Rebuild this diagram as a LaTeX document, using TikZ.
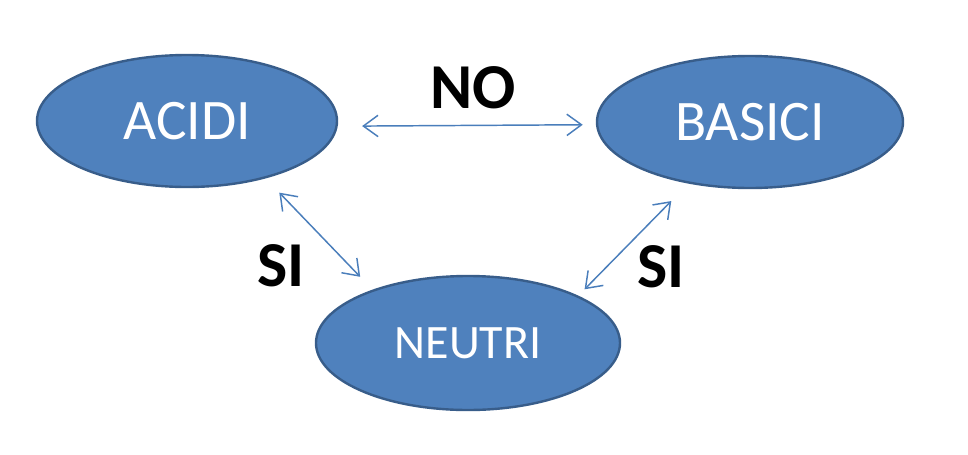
\documentclass[tikz,border=0pt]{standalone}
\usepackage{fontspec}
\setmainfont{Carlito}
\usetikzlibrary{shapes.geometric,arrows.meta}
\definecolor{ellfill}{HTML}{4F81BD}
\definecolor{elldraw}{HTML}{385D8A}
\definecolor{arrcol}{HTML}{4A7EBB}
\begin{document}
\begin{tikzpicture}[x=0.75pt,y=-0.75pt,
  blob/.style={ellipse,fill=ellfill,draw=elldraw,line width=1.8pt,inner sep=0pt,outer sep=0pt,text=white},
  arr/.style={draw=arrcol,line width=1.1pt,{Straight Barb[length=11pt,width=16pt]}-{Straight Barb[length=11pt,width=16pt]}},
  lab/.style={font=\fontsize{48}{48}\selectfont\bfseries,text=black,inner sep=0pt}]
\useasboundingbox[fill=white] (0,0) rectangle (968,454);
\node[blob,minimum width=225pt,minimum height=99pt,font=\fontsize{43}{43}\selectfont] (acidi) at (187,121) {ACIDI};
\node[blob,minimum width=229.5pt,minimum height=99pt,font=\fontsize{43}{43}\selectfont] (basici) at (750,122) {BASICI};
\node[blob,minimum width=228pt,minimum height=100.5pt,font=\fontsize{36}{36}\selectfont] (neutri) at (468,343) {NEUTRI};
\draw[arr,shorten <=19.2pt,shorten >=10.8pt] (acidi.-2.3) -- (basici.181.9);
\draw[arr,shorten <=15.8pt,shorten >=14.3pt] (acidi.-36.8) -- (neutri.151);
\draw[arr,shorten <=7.6pt,shorten >=19.4pt] (neutri.23.3) -- (basici.225);
\node[lab] (no) at (473,88) {NO};
\node[lab] (si1) at (281,266) {SI};
\node[lab] (si2) at (661,267) {SI};
\end{tikzpicture}
\end{document}
